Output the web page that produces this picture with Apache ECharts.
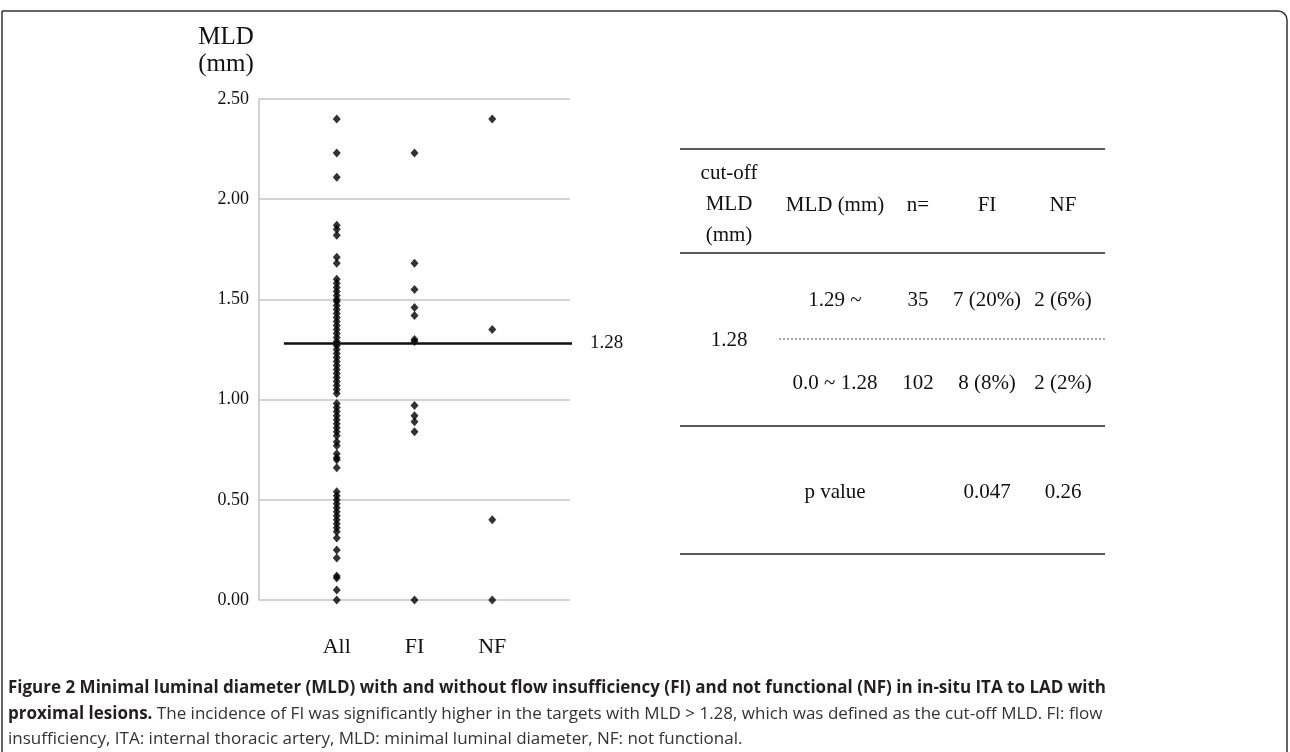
<!DOCTYPE html>
<html><head><meta charset="utf-8">
<script src="https://cdn.jsdelivr.net/npm/echarts@6/dist/echarts.min.js"></script>
<style>html,body{margin:0;padding:0;background:#fff}#c{width:1290px;height:752px}</style>
</head><body><div id="c"></div>
<script>
// ---- data ----
const categories = ['All', 'FI', 'NF'];
const allValues = [2.40, 2.23, 2.11, 1.87, 1.85, 1.82, 1.71, 1.68,
  1.60, 1.58, 1.56, 1.54, 1.52, 1.50, 1.49, 1.47, 1.45, 1.43, 1.41, 1.39, 1.37, 1.35, 1.33, 1.31, 1.29, 1.28, 1.27,
  1.25, 1.23, 1.21, 1.19, 1.17, 1.15, 1.13, 1.11, 1.09, 1.07, 1.05, 1.03,
  0.98, 0.96, 0.94, 0.92, 0.90, 0.88, 0.86, 0.84, 0.82, 0.79, 0.77, 0.73, 0.71, 0.70, 0.66,
  0.54, 0.52, 0.50, 0.48, 0.46, 0.44, 0.42, 0.40, 0.38, 0.36, 0.34, 0.31, 0.25, 0.21, 0.12, 0.11, 0.05, 0.00];
const fiValues = [2.23, 1.68, 1.55, 1.46, 1.42, 1.30, 1.29, 0.97, 0.92, 0.89, 0.84, 0.00];
const nfValues = [2.40, 1.35, 0.40, 0.00];
const yTickMin = 0, yTickMax = 2.5, yTickStep = 0.5;
const cutoffValue = 1.28;
const cutoffSpan = [0.32, 4.06];
const yAxisTitle = 'MLD\n(mm)';

const tableHeader = ['cut-off\nMLD\n(mm)', 'MLD (mm)', 'n=', 'FI', 'NF'];
const tableRowAbove = ['', '1.29 ~', '35', '7 (20%)', '2 (6%)'];
const tableCutoffLabel = '1.28';
const tableRowBelow = ['', '0.0 ~ 1.28', '102', '8 (8%)', '2 (2%)'];
const tablePRow = ['', 'p value', '', '0.047', '0.26'];

const captionLine1 = 'Figure 2 Minimal luminal diameter (MLD) with and without flow insufficiency (FI) and not functional (NF) in in-situ ITA to LAD with';
const captionLine2Bold = 'proximal lesions.';
const captionLine2 = ' The incidence of FI was significantly higher in the targets with MLD > 1.28, which was defined as the cut-off MLD. FI: flow';
const captionLine3 = 'insufficiency, ITA: internal thoracic artery, MLD: minimal luminal diameter, NF: not functional.';

// ---- chart ----
const serif = '"Liberation Serif", "Times New Roman", serif';
const sans = '"Open Sans", Lato, sans-serif';
const chart = echarts.init(document.getElementById('c'), null, {renderer: 'canvas'});

const toPts = (vals, i) => vals.map(v => [i + 1, v]);

// table graphics
const colX = [729, 835, 918, 987, 1063];
const tableLineColor = '#222';
const graphics = [];
function hline(x1, x2, y, dashed) {
  graphics.push({type: 'line', shape: {x1, y1: y, x2, y2: y}, silent: true,
    style: {stroke: dashed ? '#555' : tableLineColor, lineWidth: dashed ? 1 : 1.6, lineDash: dashed ? [2, 2] : null}});
}
function txt(s, x, y, opts) {
  graphics.push({type: 'text', x, y, silent: true,
    style: Object.assign({text: s, font: '21px ' + serif, fill: '#111', align: 'center', verticalAlign: 'middle'}, opts || {})});
}
hline(680, 1105, 149);
hline(680, 1105, 253);
hline(779, 1105, 339, true);
hline(680, 1105, 426);
hline(680, 1105, 554);
txt(tableHeader[0], colX[0], 204, {lineHeight: 31});
for (let i = 1; i < 5; i++) txt(tableHeader[i], colX[i], 205);
for (let i = 1; i < 5; i++) txt(tableRowAbove[i], colX[i], 300);
txt(tableCutoffLabel, colX[0], 340);
for (let i = 1; i < 5; i++) txt(tableRowBelow[i], colX[i], 383);
for (let i = 1; i < 5; i++) txt(tablePRow[i], colX[i], 492);

// axis title
txt(yAxisTitle, 226, 51, {font: '25px ' + serif, lineHeight: 27});

// frame
graphics.push({type: 'rect', silent: true, shape: {x: 2, y: 11, width: 1285, height: 760, r: [0, 9, 0, 0]},
  style: {fill: null, stroke: '#333', lineWidth: 1.5}});

// caption
graphics.push({type: 'text', x: 8, y: 688, silent: true,
  style: {text: captionLine1, font: 'bold 17px ' + sans, fill: '#231f20', verticalAlign: 'middle'}});
graphics.push({type: 'text', x: 8, y: 714, silent: true,
  style: {text: '{b|' + captionLine2Bold + '}{n|' + captionLine2 + '}', verticalAlign: 'middle',
    rich: {b: {font: 'bold 17px ' + sans, fill: '#231f20'}, n: {font: '17px ' + sans, fill: '#333'}}}});
graphics.push({type: 'text', x: 8, y: 739, silent: true,
  style: {text: captionLine3, font: '17px ' + sans, fill: '#333', verticalAlign: 'middle'}});

const scatterStyle = {type: 'scatter', symbol: 'diamond', symbolSize: [8, 9],
  itemStyle: {color: '#000'}, silent: true, z: 3};

chart.setOption({
  animation: false,
  backgroundColor: '#fff',
  grid: {left: 259, right: 720, top: 99, bottom: 152, containLabel: false},
  xAxis: {type: 'value', min: 0, max: 4, interval: 1,
    axisLine: {show: false}, axisTick: {show: false}, splitLine: {show: false},
    axisLabel: {margin: 36, fontFamily: serif, fontSize: 22, color: '#111',
      formatter: v => categories[v - 1] || ''}},
  yAxis: {type: 'value', min: yTickMin, max: yTickMax, interval: yTickStep,
    axisLine: {show: true, lineStyle: {color: '#c4c4c4', width: 1.5}},
    axisTick: {show: false},
    splitLine: {show: true, lineStyle: {color: '#c4c4c4', width: 1.5}},
    axisLabel: {margin: 10, fontFamily: serif, fontSize: 18, color: '#111',
      formatter: v => v.toFixed(2)}},
  series: [
    Object.assign({name: categories[0], data: toPts(allValues, 0)}, scatterStyle),
    Object.assign({name: categories[1], data: toPts(fiValues, 1)}, scatterStyle),
    Object.assign({name: categories[2], data: toPts(nfValues, 2)}, scatterStyle),
    {type: 'line', name: 'cutoff', clip: false, symbol: 'none', silent: true, z: 4,
      data: cutoffSpan.map(x => [x, cutoffValue]),
      lineStyle: {color: '#111', width: 2.5},
      endLabel: {show: true, formatter: () => cutoffValue.toFixed(2), distance: 18,
        fontFamily: serif, fontSize: 19, color: '#111'}}
  ],
  graphic: graphics
});
</script>
</body></html>
